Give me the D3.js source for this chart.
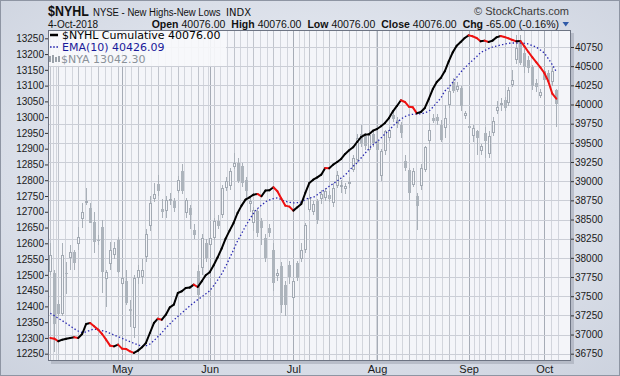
<!DOCTYPE html>
<html><head><meta charset="utf-8">
<script src="https://cdn.jsdelivr.net/npm/d3@7"></script>
<style>html,body{margin:0;padding:0;background:#fff;}svg{display:block;}</style>
</head><body>
<svg id="chart" width="620" height="376"></svg>
<script>
// ---------------- DATA ----------------
const startDate = "2018-04-05";
const holidays = ["2018-05-28", "2018-07-04", "2018-09-03"];
const nyaOpen = [12510,12505,12406,12375,12507,12552,12573,12598,12676,12727,12713,12668,12612,12653,12486,12534,12563,12610,12470,12480,12391,12331,12489,12492,12558,12654,12741,12788,12709,12704,12733,12733,12767,12828,12696,12712,12643,12511,12522,12601,12596,12617,12670,12691,12775,12781,12841,12855,12845,12800,12725,12664,12701,12670,12617,12649,12580,12495,12527,12469,12532,12427,12538,12551,12580,12707,12700,12733,12741,12744,12754,12728,12781,12778,12773,12788,12833,12865,12946,12939,12897,12946,12923,12812,12892,12934,13006,12992,12976,12862,12833,12786,12749,12781,12833,12923,12997,13002,12976,12966,13040,13113,13087,13092,13003,12971,12939,12955,12894,12950,12883,12950,13018,13037,13055,13045,13101,13182,13239,13203,13182,13158,13108,13066,13145,13140,13113,13087];
const nyaHigh = [12600,12515,12420,12600,12540,12595,12580,12652,12727,12774,12727,12700,12626,12674,12515,12605,12605,12620,12500,12515,12420,12500,12530,12550,12645,12750,12790,12815,12740,12750,12760,12745,12813,12850,12745,12720,12660,12530,12630,12615,12640,12680,12690,12785,12810,12840,12885,12870,12855,12810,12750,12715,12712,12680,12630,12660,12600,12520,12540,12480,12545,12490,12545,12600,12665,12755,12735,12740,12770,12775,12765,12790,12830,12800,12790,12810,12880,12945,12975,12950,12960,12955,12930,12900,12960,12970,13015,13000,12985,12880,12840,12840,12760,12850,12910,12980,13010,13010,12990,13040,13095,13125,13110,13100,13020,12980,12975,12960,12915,12970,12955,13000,13050,13060,13065,13095,13150,13262,13260,13215,13195,13165,13120,13090,13160,13150,13160,13090];
const nyaLow = [12500,12256,12370,12370,12440,12515,12515,12580,12647,12720,12663,12568,12595,12441,12399,12515,12550,12505,12430,12405,12336,12300,12470,12470,12540,12640,12730,12750,12680,12680,12720,12700,12760,12755,12680,12645,12615,12384,12500,12540,12585,12610,12645,12680,12765,12770,12835,12790,12780,12745,12700,12640,12620,12596,12540,12620,12448,12480,12380,12370,12470,12380,12480,12540,12570,12700,12690,12660,12725,12735,12730,12715,12775,12760,12755,12775,12825,12855,12905,12895,12890,12905,12885,12796,12880,12925,12985,12965,12935,12830,12738,12780,12643,12770,12825,12915,12980,12975,12920,12934,13030,13075,13080,13018,12995,12940,12920,12880,12880,12870,12870,12940,13010,13020,13020,13035,13095,13170,13165,13140,13140,13085,13080,13060,13100,13105,13100,12970];
const nyaClose = [12563,12344,12375,12563,12505,12573,12538,12621,12700,12734,12665,12605,12608,12510,12510,12579,12586,12510,12490,12412,12386,12490,12515,12515,12630,12728,12756,12767,12698,12738,12741,12712,12802,12765,12738,12691,12627,12437,12617,12553,12617,12670,12654,12775,12797,12828,12855,12797,12790,12765,12735,12707,12633,12649,12553,12633,12474,12506,12405,12405,12492,12479,12490,12580,12659,12744,12725,12675,12756,12765,12741,12775,12818,12786,12781,12794,12870,12934,12915,12907,12944,12918,12897,12894,12955,12960,12995,12978,12950,12839,12760,12830,12717,12839,12904,12960,12989,12987,12929,12997,13082,13082,13098,13034,13013,12966,12966,12934,12907,12923,12939,12987,13031,13045,13029,13087,13119,13219,13171,13158,13156,13098,13095,13079,13119,13115,13145,13042.30];
const nyhlCumulative = [36955,36946,36912,36933,36946,36955,36964,36955,37007,37138,37150,37107,37064,37007,36933,36855,36846,36868,36816,36812,36781,36760,36790,36833,36890,37020,37150,37207,37194,37259,37355,37390,37542,37564,37607,37612,37651,37620,37694,37773,37812,37903,38007,38120,38251,38355,38455,38585,38681,38759,38790,38824,38833,38803,38877,38881,38920,38868,38772,38681,38668,38616,38659,38703,38846,38976,39020,39050,39085,39172,39168,39216,39250,39290,39355,39403,39442,39511,39576,39607,39611,39659,39681,39716,39759,39824,39911,39981,40055,40033,39972,39963,39885,39902,39955,40072,40202,40294,40346,40433,40563,40680,40767,40815,40867,40902,40889,40867,40824,40833,40815,40833,40876,40894,40880,40863,40841,40824,40828,40759,40685,40615,40550,40485,40411,40302,40141,40076];
const ema10 = [37277,37246,37212,37181,37147,37112,37076,37046,37029,37037,37056,37069,37063,37050,37037,37016,36994,36972,36951,36929,36907,36886,36864,36851,36855,36877,36920,36972,37024,37086,37138,37190,37236,37281,37327,37372,37415,37455,37490,37529,37572,37637,37711,37790,37888,37996,38105,38220,38315,38412,38498,38581,38641,38686,38729,38755,38772,38781,38759,38738,38725,38716,38720,38729,38759,38781,38790,38824,38859,38894,38933,38967,39003,39042,39081,39137,39194,39241,39302,39364,39424,39476,39515,39563,39615,39659,39720,39768,39807,39841,39863,39872,39876,39880,39893,39915,39964,40024,40085,40172,40224,40290,40355,40420,40476,40528,40577,40624,40676,40702,40728,40750,40763,40776,40789,40798,40802,40802,40802,40798,40789,40767,40746,40711,40668,40597,40519,40426.09];
const leftTickValues = [12250,12300,12350,12400,12450,12500,12550,12600,12650,12700,12750,12800,12850,12900,12950,13000,13050,13100,13150,13200,13250];
const rightTickValues = [36750,37000,37250,37500,37750,38000,38250,38500,38750,39000,39250,39500,39750,40000,40250,40500,40750];
const monthNames = ["Jan","Feb","Mar","Apr","May","Jun","Jul","Aug","Sep","Oct","Nov","Dec"];
const headerInfo = {symbol:"$NYHL", name:"NYSE - New Highs-New Lows", exch:"INDX", date:"4-Oct-2018",
  open:"40076.00", high:"40076.00", low:"40076.00", close:"40076.00", chg:"-65.00 (-0.16%)"};
const legendItems = ["$NYHL Cumulative 40076.00", "EMA(10) 40426.09", "$NYA 13042.30"];

// ---------------- BUILD DATES ----------------
const n = nyaClose.length;
const dates = [];
{
  let d = new Date(startDate + "T12:00:00");
  const hol = new Set(holidays);
  while (dates.length < n) {
    const wd = d.getDay();
    const key = d3.timeFormat("%Y-%m-%d")(d);
    if (wd !== 0 && wd !== 6 && !hol.has(key)) dates.push(new Date(d));
    d.setDate(d.getDate() + 1);
  }
}
const candles = d3.range(n).map(i => ({i, date: dates[i], o: nyaOpen[i], h: nyaHigh[i], l: nyaLow[i], c: nyaClose[i]}));

// ---------------- LAYOUT ----------------
const W = 620, H = 376;
const P = {l: 48, r: 571, t: 30, b: 361};
const plotBg = "#f4f5f9";
const svg = d3.select("#chart");
const defs = svg.append("defs");
const rg = defs.append("radialGradient").attr("id", "bg").attr("cx", "50%").attr("cy", "45%").attr("r", "75%");
rg.append("stop").attr("offset", "0%").attr("stop-color", "#f1f4fa");
rg.append("stop").attr("offset", "100%").attr("stop-color", "#ccd2de");
defs.append("clipPath").attr("id", "plotclip").append("rect")
  .attr("x", P.l).attr("y", P.t).attr("width", P.r - P.l).attr("height", P.b - P.t);

svg.append("rect").attr("x", 0.5).attr("y", 0.5).attr("width", W - 1).attr("height", H - 1)
  .attr("fill", "url(#bg)").attr("stroke", "#8e95a3");

const x = d3.scaleLinear().domain([0, n - 1]).range([50.3, 556.3]);
const yL = d3.scaleLinear().domain([12250, 13250]).range([353.7, 38.3]);
const yR = d3.scaleLinear().domain([36750, 40750]).range([353.7, 47]);

svg.append("rect").attr("x", P.l + 3).attr("y", P.t + 3).attr("width", P.r - P.l).attr("height", P.b - P.t)
  .attr("fill", "#a3a9b6").attr("opacity", 0.6);
svg.append("rect").attr("x", P.l).attr("y", P.t).attr("width", P.r - P.l).attr("height", P.b - P.t)
  .attr("fill", plotBg);

const plot = svg.append("g").attr("clip-path", "url(#plotclip)");

// vertical gridlines
const weekStarts = candles.filter((c, k) => k === 0 || c.date.getDay() < candles[k - 1].date.getDay()).map(c => c.i);
const monthStarts = candles.filter((c, k) => k > 0 && c.date.getMonth() !== candles[k - 1].date.getMonth()).map(c => c.i);
const minorPos = [];
for (let k = 0; k < weekStarts.length; k++) {
  const a = weekStarts[k], b = k + 1 < weekStarts.length ? weekStarts[k + 1] : a + 5;
  minorPos.push(a + (b - a) / 3, a + 2 * (b - a) / 3);
}
minorPos.push(weekStarts[0] - 5 / 3, weekStarts[0] - 10 / 3);
const gv = plot.append("g").attr("shape-rendering", "crispEdges");
gv.selectAll("line.minor").data(minorPos).join("line").attr("class", "minor")
  .attr("x1", d => Math.round(x(d)) + 0.5).attr("x2", d => Math.round(x(d)) + 0.5)
  .attr("y1", P.t).attr("y2", P.b).attr("stroke", "#d2d5dc");
gv.selectAll("line.week").data(weekStarts).join("line").attr("class", "week")
  .attr("x1", d => Math.round(x(d)) + 0.5).attr("x2", d => Math.round(x(d)) + 0.5)
  .attr("y1", P.t).attr("y2", P.b).attr("stroke", "#c0c4cc");
gv.selectAll("line.month").data(monthStarts).join("line").attr("class", "month")
  .attr("x1", d => Math.round(x(d)) + 0.5).attr("x2", d => Math.round(x(d)) + 0.5)
  .attr("y1", P.t).attr("y2", P.b).attr("stroke", "#a6acb6");
gv.selectAll("line.h").data(rightTickValues).join("line").attr("class", "h")
  .attr("x1", P.l).attr("x2", P.r)
  .attr("y1", d => Math.round(yR(d)) + 0.5).attr("y2", d => Math.round(yR(d)) + 0.5)
  .attr("stroke", "#cbced6");

// candles ($NYA)
const cg = plot.append("g").attr("shape-rendering", "crispEdges");
const cx = d => Math.round(x(d.i));
cg.selectAll("line.wick").data(candles).join("line").attr("class", "wick")
  .attr("x1", d => cx(d) + 0.5).attr("x2", d => cx(d) + 0.5)
  .attr("y1", d => yL(d.h)).attr("y2", d => yL(d.l))
  .attr("stroke", "#a9b0b8");
const filled = candles.filter(d => d.c < d.o), hollow = candles.filter(d => d.c >= d.o);
cg.selectAll("rect.f").data(filled).join("rect").attr("class", "f")
  .attr("x", d => cx(d) - 1).attr("width", 3)
  .attr("y", d => Math.round(yL(d.o)))
  .attr("height", d => Math.max(1, Math.round(yL(d.c)) - Math.round(yL(d.o))))
  .attr("fill", "#adb4bc");
cg.selectAll("rect.h").data(hollow).join("rect").attr("class", "h")
  .attr("x", d => cx(d) - 0.5).attr("width", 2)
  .attr("y", d => Math.round(yL(d.c)) + 0.5)
  .attr("height", d => Math.max(0, Math.round(yL(d.o)) - Math.round(yL(d.c)) - 1))
  .attr("fill", plotBg).attr("stroke", "#a3aab3");

// EMA(10)
plot.append("path").datum(ema10)
  .attr("d", d3.line().x((d, i) => x(i)).y(d => yR(d)).curve(d3.curveMonotoneX))
  .attr("fill", "none").attr("stroke", "#2626b0").attr("stroke-width", 1.3)
  .attr("stroke-dasharray", "1.4,2.2");

// NYHL cumulative: black rising, red falling
const segs = d3.range(1, n).map(i => ({i, up: nyhlCumulative[i] >= nyhlCumulative[i - 1]}));
plot.append("g").selectAll("line").data(segs).join("line")
  .attr("x1", d => x(d.i - 1)).attr("y1", d => yR(nyhlCumulative[d.i - 1]))
  .attr("x2", d => x(d.i)).attr("y2", d => yR(nyhlCumulative[d.i]))
  .attr("stroke", d => d.up ? "#000000" : "#ee1111").attr("stroke-width", 2)
  .attr("stroke-linecap", "round");

// frame
svg.append("rect").attr("x", P.l + 0.5).attr("y", P.t + 0.5).attr("width", P.r - P.l - 1).attr("height", P.b - P.t - 1)
  .attr("fill", "none").attr("stroke", "#6d7483");

// axes
const af = "'Liberation Sans', Arial, sans-serif";
const axL = d3.axisLeft(yL).tickValues(leftTickValues).tickSize(3).tickPadding(1).tickFormat(d3.format("d"));
const gL = svg.append("g").attr("transform", `translate(${P.l},0)`).call(axL);
const axR = d3.axisRight(yR).tickValues(rightTickValues).tickSize(3).tickPadding(1).tickFormat(d3.format("d"));
const gR = svg.append("g").attr("transform", `translate(${P.r},0)`).call(axR);
[gL, gR].forEach(g => {
  g.select(".domain").remove();
  g.selectAll("text").attr("font-family", af).attr("font-size", 10).attr("fill", "#1a1a1a");
  g.selectAll("line").attr("stroke", "#333");
});
const axB = d3.axisBottom(x).tickValues(monthStarts).tickSize(0).tickPadding(0)
  .tickFormat(i => monthNames[dates[i].getMonth()]);
const gB = svg.append("g").attr("transform", `translate(0,${P.b})`).call(axB);
gB.select(".domain").remove();
gB.selectAll("text").attr("dy", null).attr("y", 12).attr("font-family", af).attr("font-size", 11).attr("fill", "#1a1a1a");

// header (condensed via horizontal scaling)
const hdr = svg.append("g").attr("font-family", af).attr("fill", "#111");
hdr.append("text").attr("transform", "translate(48,16) scale(0.83,1)")
  .attr("font-weight", "bold").attr("font-size", 15).text(headerInfo.symbol);
hdr.append("text").attr("transform", "translate(93,16) scale(0.83,1)")
  .attr("font-size", 11.5).text(headerInfo.name);
hdr.append("text").attr("x", 226).attr("y", 16).attr("font-size", 10).attr("font-family", "'DejaVu Sans', Verdana, sans-serif")
  .text(headerInfo.exch);
svg.append("text").attr("x", 569).attr("y", 15).attr("text-anchor", "end").attr("font-family", af)
  .attr("font-size", 11).attr("fill", "#3a3a3a").text("\u00A9 StockCharts.com");
hdr.append("text").attr("x", 48).attr("y", 28.3).attr("font-size", 10).text(headerInfo.date);
const h2 = svg.append("text").attr("x", 559).attr("y", 27.5).attr("text-anchor", "end").attr("font-family", af)
  .attr("font-size", 10.5).attr("fill", "#111");
[["Open", headerInfo.open], ["High", headerInfo.high], ["Low", headerInfo.low], ["Close", headerInfo.close], ["Chg", headerInfo.chg]]
  .forEach(([k, v], idx) => {
    h2.append("tspan").attr("font-weight", "bold").attr("dx", idx ? 6 : 0).text(k);
    h2.append("tspan").attr("dx", 3).text(v);
  });
svg.append("path").attr("d", "M562.5,22 L569,22 L565.75,26.5 Z").attr("fill", "#2f5aa8");

// legend
const lf = "'DejaVu Sans', Verdana, sans-serif";
const lg = svg.append("g");
lg.append("rect").attr("x", P.l + 1).attr("y", P.t + 1).attr("width", 177).attr("height", 35)
  .attr("fill", "#f7f8fb").attr("opacity", 0.9);
lg.append("line").attr("x1", 50).attr("x2", 58).attr("y1", 35).attr("y2", 35).attr("stroke", "#000").attr("stroke-width", 2.5);
lg.append("text").attr("x", 62).attr("y", 39).attr("font-family", lf).attr("font-size", 11).attr("fill", "#000").text(legendItems[0]);
lg.append("line").attr("x1", 50).attr("x2", 59).attr("y1", 47).attr("y2", 47).attr("stroke", "#2626b0").attr("stroke-width", 1.6).attr("stroke-dasharray", "1.6,1.6");
lg.append("text").attr("x", 62).attr("y", 51).attr("font-family", lf).attr("font-size", 11).attr("fill", "#1a1a9a").text(legendItems[1]);
const ic = lg.append("g").attr("fill", "#9aa1a9").attr("shape-rendering", "crispEdges");
ic.append("rect").attr("x", 49).attr("y", 55.5).attr("width", 2).attr("height", 6);
ic.append("rect").attr("x", 52).attr("y", 54.5).attr("width", 2).attr("height", 8);
ic.append("rect").attr("x", 55).attr("y", 56.5).attr("width", 2).attr("height", 5);
ic.append("rect").attr("x", 58).attr("y", 55.5).attr("width", 2).attr("height", 6);
lg.append("text").attr("x", 61).attr("y", 62.5).attr("font-family", lf).attr("font-size", 11).attr("fill", "#8a9199").text(legendItems[2]);
</script>
</body></html>
